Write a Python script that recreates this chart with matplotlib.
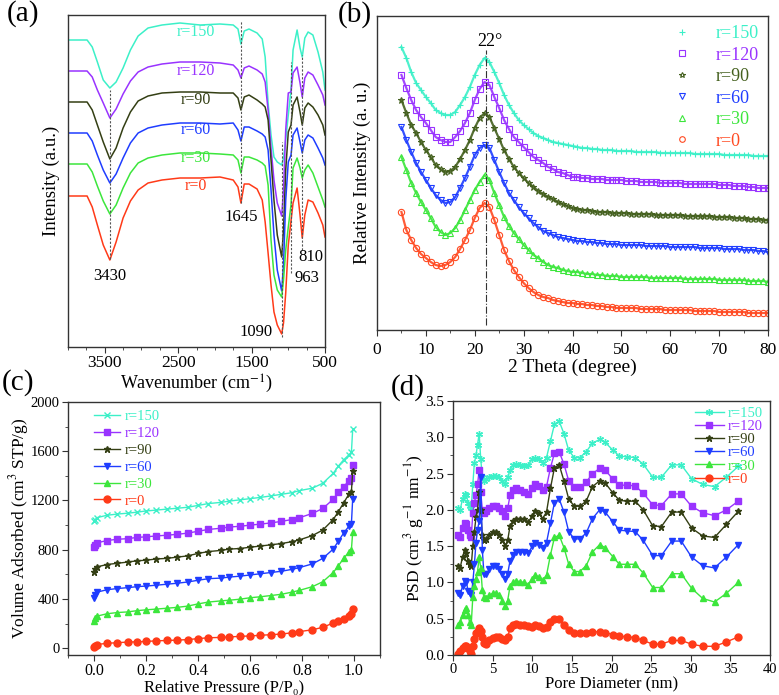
import matplotlib
matplotlib.use("Agg")
import matplotlib.pyplot as plt
from matplotlib.ticker import MultipleLocator

plt.rcParams['font.family'] = ['Liberation Serif', 'DejaVu Serif']
plt.rcParams['mathtext.fontset'] = 'stix'

labels = ["r=150", "r=120", "r=90", "r=60", "r=30", "r=0"]
colors = ["#3CF0C8", "#9933FF", "#343F14", "#1F3DFF", "#3CE63C", "#FF3A18"]
colors_b = ["#3CF0C8", "#9933FF", "#44601E", "#1F3DFF", "#3CE63C", "#FF4A22"]

# ---- (a) FTIR ----
wavenumber = [4000, 3740, 3670, 3600, 3520, 3430, 3345, 3250, 3150, 3045,
              2910, 2720, 2475, 2200, 1930, 1750, 1685, 1645, 1600, 1535,
              1425, 1355, 1315, 1275, 1235, 1195, 1150, 1090, 1065, 1035,
              1000, 963, 935, 880, 840, 810, 775, 730, 665, 595, 530, 500]
ftir_150 = [307, 307, 300, 285, 267, 259, 265, 279, 297, 311, 319, 322, 324, 322, 323, 322, 318, 303, 316, 318, 314,
            308, 290, 244, 212, 190, 185, 182, 189, 207, 232, 257, 297, 317, 299, 290, 309, 315, 312, 295, 275, 257]
ftir_120 = [276, 276, 270, 257, 244, 229, 238, 253, 266, 275, 280, 283, 285, 285, 284, 282, 277, 269, 279, 281, 277,
            273, 265, 237, 199, 167, 144, 131, 157, 217, 254, 255, 274, 280, 264, 250, 269, 275, 272, 262, 252, 242]
ftir_90 = [245, 245, 237, 222, 205, 188, 199, 219, 235, 246, 251, 254, 255, 255, 254, 254, 249, 237, 250, 252, 247,
           243, 240, 227, 187, 147, 112, 90, 117, 177, 215, 222, 242, 250, 235, 222, 239, 244, 240, 232, 222, 212]
ftir_60 = [214, 214, 206, 192, 177, 164, 173, 189, 204, 214, 219, 222, 224, 224, 223, 224, 217, 206, 220, 220, 216,
           213, 210, 197, 157, 112, 77, 56, 82, 147, 185, 192, 212, 219, 205, 194, 207, 212, 209, 199, 189, 182]
ftir_30 = [183, 183, 175, 161, 146, 133, 142, 159, 174, 184, 189, 192, 194, 194, 193, 192, 187, 174, 190, 190, 187,
           184, 181, 162, 107, 72, 57, 50, 67, 97, 120, 142, 179, 189, 179, 169, 177, 182, 174, 160, 147, 140]
ftir_0 = [151, 151, 140, 122, 102, 87, 105, 129, 146, 157, 164, 167, 169, 169, 170, 167, 160, 144, 163, 163, 158,
          147, 125, 94, 62, 35, 22, 13, 24, 54, 102, 126, 144, 159, 132, 109, 132, 147, 145, 134, 122, 110]
ftir = [ftir_150, ftir_120, ftir_90, ftir_60, ftir_30, ftir_0]
peak_pos = [3430, 1645, 1090, 963, 810]

# ---- (b) XRD ----
theta = list(range(5, 81))
xrd_150 = [283, 272, 258, 247, 240, 233, 227, 220, 217, 215,
           215, 218, 225, 233, 243, 255, 265, 272, 268, 258,
           247, 235, 225, 217, 210, 205, 201, 197, 194, 192,
           190, 188, 187, 186, 185, 184, 183, 182, 182, 181,
           181, 180, 180, 180, 179, 179, 179, 179, 178, 178,
           178, 178, 178, 177, 177, 177, 177, 177, 177, 177,
           176, 176, 176, 176, 176, 176, 175, 175, 175, 175,
           175, 175, 174, 174, 174, 174]
xrd_120 = [255, 242, 230, 220, 213, 207, 200, 193, 190, 188,
           188, 193, 199, 207, 217, 230, 241, 248, 245, 233,
           222, 210, 201, 193, 188, 183, 178, 173, 170, 167,
           163, 161, 158, 157, 155, 153, 153, 152, 152, 151,
           151, 151, 150, 150, 150, 150, 149, 149, 149, 148,
           148, 148, 148, 147, 147, 147, 147, 147, 146, 146,
           146, 146, 146, 146, 146, 145, 145, 145, 144, 144,
           144, 143, 143, 142, 142, 142]
xrd_90 = [230, 217, 205, 197, 188, 180, 173, 165, 161, 158,
          159, 163, 171, 180, 190, 202, 212, 217, 213, 202,
          191, 180, 171, 163, 157, 152, 147, 143, 139, 136,
          133, 131, 128, 126, 124, 122, 121, 120, 120, 119,
          118, 118, 118, 117, 117, 117, 117, 116, 116, 116,
          116, 116, 115, 115, 115, 115, 115, 115, 114, 114,
          114, 114, 114, 114, 113, 113, 113, 113, 112, 112,
          112, 111, 111, 111, 110, 110]
xrd_60 = [203, 190, 178, 167, 158, 150, 142, 135, 130, 127,
          128, 133, 142, 152, 163, 175, 182, 185, 182, 170,
          158, 147, 137, 130, 123, 117, 112, 107, 103, 99,
          97, 95, 93, 92, 91, 90, 89, 89, 88, 88,
          87, 87, 86, 86, 86, 85, 85, 85, 85, 85,
          84, 84, 84, 84, 84, 83, 83, 83, 83, 83,
          83, 82, 82, 82, 82, 82, 81, 81, 81, 81,
          80, 80, 80, 79, 79, 78]
xrd_30 = [173, 160, 147, 137, 128, 120, 112, 103, 98, 95,
          97, 102, 110, 120, 130, 140, 148, 155, 150, 137,
          125, 113, 104, 97, 91, 85, 80, 75, 72, 68,
          65, 63, 62, 60, 59, 58, 58, 57, 56, 56,
          55, 55, 54, 54, 54, 53, 53, 53, 53, 53,
          53, 52, 52, 52, 52, 52, 52, 52, 51, 51,
          51, 51, 51, 51, 51, 50, 50, 50, 50, 50,
          50, 49, 49, 49, 49, 48]
xrd_0 = [118, 100, 90, 82, 76, 72, 68, 65, 64, 65,
         68, 73, 81, 90, 100, 112, 122, 127, 123, 110,
         95, 80, 69, 60, 53, 47, 42, 38, 35, 33,
         32, 30, 29, 28, 27, 27, 26, 26, 25, 25,
         24, 24, 23, 23, 22, 22, 22, 22, 22, 21,
         21, 21, 21, 21, 20, 20, 20, 20, 20, 20,
         19, 19, 19, 19, 19, 18, 18, 18, 18, 18,
         18, 17, 17, 17, 17, 17]
xrd = [xrd_150, xrd_120, xrd_90, xrd_60, xrd_30, xrd_0]

# ---- (c) N2 isotherms ----
rel_p = [0.001, 0.005, 0.01, 0.05, 0.09, 0.13, 0.165, 0.2, 0.24, 0.28, 0.32, 0.36, 0.40, 0.44, 0.49, 0.52,
         0.56, 0.60, 0.64, 0.68, 0.72, 0.76, 0.79, 0.84, 0.88, 0.92, 0.94, 0.96, 0.98, 0.99, 0.995]
ads_150 = [1030, 1045, 1060, 1080, 1090, 1097, 1105, 1115, 1122, 1130, 1137, 1145, 1160, 1175, 1185, 1195,
           1205, 1215, 1225, 1237, 1250, 1263, 1280, 1300, 1340, 1420, 1480, 1530, 1570, 1590, 1780]
ads_120 = [820, 840, 855, 875, 885, 890, 900, 905, 912, 918, 925, 935, 950, 965, 975, 985,
           990, 1000, 1008, 1018, 1030, 1045, 1060, 1095, 1135, 1210, 1270, 1310, 1360, 1380, 1490]
ads_90 = [620, 645, 660, 680, 690, 700, 710, 715, 725, 730, 740, 750, 770, 785, 795, 805,
          810, 820, 830, 840, 850, 865, 880, 915, 960, 1045, 1110, 1180, 1250, 1270, 1440]
ads_60 = [410, 435, 455, 475, 485, 492, 500, 505, 512, 520, 528, 538, 552, 565, 570, 578,
          585, 595, 605, 615, 625, 640, 655, 685, 730, 805, 870, 935, 990, 1010, 1215]
ads_30 = [220, 245, 260, 280, 290, 295, 305, 312, 318, 325, 332, 342, 360, 375, 385, 390,
          398, 410, 418, 428, 438, 455, 470, 500, 540, 615, 670, 730, 780, 800, 945]
ads_0 = [10, 22, 30, 40, 45, 50, 52, 55, 60, 63, 66, 70, 78, 85, 88, 92,
         96, 100, 105, 110, 115, 125, 135, 150, 170, 205, 220, 240, 265, 280, 320]
ads = [ads_150, ads_120, ads_90, ads_60, ads_30, ads_0]

# ---- (d) PSD ----
pore_d = [0.6, 0.9, 1.2, 1.5, 1.7, 1.9, 2.1, 2.3, 2.5, 2.7, 2.9, 3.1, 3.3, 3.5, 3.7, 3.9, 4.2, 4.6, 5.0, 5.4,
          5.8, 6.2, 6.6, 6.9, 7.2, 7.6, 8.0, 8.5, 9.0, 9.5, 10.0, 10.3, 10.8, 11.3, 11.8, 12.3, 12.8, 13.4, 14.0, 14.6,
          15.3, 16.0, 16.8, 17.6, 18.5, 19.2, 20.2, 21.0, 22.0, 23.0, 24.0, 25.2, 26.3, 27.6, 28.8, 30.1, 31.5, 33.0, 34.5, 36.0]
psd_150 = [2.02, 2.00, 2.15, 2.22, 2.20, 2.10, 2.05, 2.02, 2.35, 2.65, 2.75, 2.90, 3.05, 2.70, 2.45, 2.40, 2.42, 2.45, 2.47, 2.47,
           2.45, 2.40, 2.35, 2.45, 2.55, 2.62, 2.63, 2.62, 2.60, 2.62, 2.70, 2.72, 2.70, 2.65, 2.72, 2.95, 3.18, 3.22, 3.05, 2.82,
           2.72, 2.72, 2.80, 2.92, 2.97, 2.93, 2.82, 2.74, 2.73, 2.72, 2.63, 2.45, 2.45, 2.62, 2.62, 2.43, 2.35, 2.32, 2.45, 2.60]
psd_120 = [1.65, 1.62, 1.75, 1.82, 1.80, 1.72, 1.65, 1.62, 1.95, 2.10, 2.20, 2.35, 2.55, 2.25, 2.00, 1.95, 1.98, 2.03, 2.05, 2.05,
           2.02, 1.98, 1.92, 2.02, 2.20, 2.28, 2.30, 2.28, 2.25, 2.22, 2.30, 2.35, 2.33, 2.27, 2.32, 2.58, 2.78, 2.80, 2.63, 2.40,
           2.32, 2.31, 2.38, 2.50, 2.57, 2.55, 2.42, 2.34, 2.34, 2.33, 2.23, 2.07, 2.06, 2.22, 2.22, 2.05, 1.96, 1.92, 2.00, 2.12]
psd_90 = [1.22, 1.20, 1.35, 1.45, 1.40, 1.30, 1.25, 1.22, 1.50, 1.70, 1.90, 2.00, 2.25, 2.00, 1.65, 1.58, 1.60, 1.65, 1.70, 1.70,
          1.65, 1.58, 1.50, 1.58, 1.78, 1.85, 1.87, 1.87, 1.87, 1.83, 1.92, 1.98, 1.95, 1.88, 1.97, 2.30, 2.58, 2.62, 2.40, 2.15,
          2.05, 2.05, 2.12, 2.32, 2.40, 2.37, 2.23, 2.13, 2.12, 2.12, 2.00, 1.78, 1.77, 1.97, 1.97, 1.75, 1.64, 1.62, 1.80, 1.98]
psd_60 = [0.85, 0.82, 0.95, 1.02, 1.00, 0.88, 0.85, 0.82, 1.00, 1.25, 1.55, 1.72, 1.85, 2.45, 1.45, 1.12, 1.12, 1.18, 1.22, 1.22,
          1.18, 1.12, 1.05, 1.12, 1.30, 1.38, 1.42, 1.42, 1.42, 1.40, 1.50, 1.55, 1.52, 1.47, 1.55, 1.82, 2.10, 2.15, 1.97, 1.70,
          1.60, 1.60, 1.68, 1.88, 2.00, 1.97, 1.83, 1.72, 1.71, 1.70, 1.58, 1.37, 1.37, 1.57, 1.57, 1.35, 1.23, 1.20, 1.35, 1.52]
psd_30 = [0.42, 0.45, 0.55, 0.62, 0.65, 0.55, 0.45, 0.42, 0.80, 0.95, 1.05, 1.15, 1.35, 1.20, 0.90, 0.80, 0.78, 0.82, 0.85, 0.86,
          0.83, 0.75, 0.68, 0.75, 0.95, 1.00, 1.02, 1.01, 1.00, 0.97, 1.05, 1.10, 1.08, 1.03, 1.10, 1.38, 1.62, 1.65, 1.48, 1.25,
          1.15, 1.15, 1.23, 1.42, 1.52, 1.48, 1.35, 1.25, 1.25, 1.25, 1.13, 0.93, 0.93, 1.12, 1.12, 0.92, 0.78, 0.73, 0.85, 1.00]
psd_0 = [0.02, 0.05, 0.10, 0.12, 0.13, 0.10, 0.05, 0.02, 0.12, 0.22, 0.30, 0.33, 0.37, 0.33, 0.25, 0.17, 0.15, 0.20, 0.23, 0.25,
         0.25, 0.22, 0.20, 0.25, 0.37, 0.42, 0.43, 0.42, 0.42, 0.40, 0.38, 0.41, 0.40, 0.37, 0.38, 0.45, 0.50, 0.50, 0.42, 0.35,
         0.30, 0.30, 0.31, 0.32, 0.32, 0.31, 0.28, 0.26, 0.25, 0.24, 0.20, 0.15, 0.15, 0.20, 0.20, 0.15, 0.12, 0.12, 0.18, 0.25]
psd = [psd_150, psd_120, psd_90, psd_60, psd_30, psd_0]

W, H = 779, 695
fig = plt.figure(figsize=(W / 100, H / 100), dpi=100)


def box(l, t, r, b):
    return [l / W, 1 - b / H, (r - l) / W, (b - t) / H]


def style(ax):
    for s in ax.spines.values():
        s.set_color("#333333")
        s.set_linewidth(1.0)
    ax.tick_params(which="both", direction="out", color="#333333")
    ax.tick_params(which="major", length=4)
    ax.tick_params(which="minor", length=2)


# (a)
ax = fig.add_axes(box(68, 15, 325, 347))
style(ax)
for vals, c in zip(ftir, colors):
    ax.plot(wavenumber, vals, color=c, lw=1.1)
ax.set_xlim(4000, 500)
ax.set_ylim(0, 332)
ax.set_yticks([])
ax.xaxis.set_minor_locator(MultipleLocator(250))
ax.set_xticks([3500, 2500, 1500, 500])
ax.tick_params(axis="x", labelsize=12.5, pad=2)
ax.set_xlabel("Wavenumber (cm$^{-1}$)", fontsize=13, labelpad=1)
ax.set_ylabel("Intensity (a.u.)", fontsize=13.5, labelpad=6)
lines_a = {3430: (90, 259), 1645: (21, 203), 1090: (142, 337), 963: (62, 273), 810: (55, 250)}
for p in peak_pos:
    top, bot = lines_a[p]
    ax.plot([p, p], [347 - bot, 347 - top], color="#555555", lw=0.8, ls=(0, (2, 1.5)))
ax.text(3430, 71, "3430", ha="center", va="center", fontsize=12)
ax.text(1645, 130, "1645", ha="center", va="center", fontsize=12)
ax.text(1445, 15, "1090", ha="center", va="center", fontsize=12)
ax.text(750, 69, "963", ha="center", va="center", fontsize=12)
ax.text(690, 90, "810", ha="center", va="center", fontsize=12)
lab_y = [315, 276, 247, 217, 189, 161]
for lab, c, y in zip(labels, colors, lab_y):
    ax.text(2255, y, lab, color=c, ha="center", va="center", fontsize=11.5)
fig.text(23 / W, 1 - 14 / H, "(a)", fontsize=21, ha="center", va="center")

# (b)
ax = fig.add_axes(box(377, 16, 768, 330))
style(ax)
markers_b = ["+", "s", "*", "v", "^", "o"]
for vals, c, m, lab in zip(xrd, colors_b, markers_b, labels):
    ax.plot(theta, vals, color=c, lw=1.6, alpha=0.9)
    ax.plot(theta, vals, ls="none", marker=m, ms=4.5, mfc="none", mec=c, mew=0.8, label=lab)
ax.set_xlim(0, 80)
ax.set_ylim(0, 314)
ax.set_yticks([])
ax.xaxis.set_major_locator(MultipleLocator(10))
ax.xaxis.set_minor_locator(MultipleLocator(5))
ax.tick_params(axis="x", labelsize=12.5, pad=5)
ax.set_xlabel("2 Theta (degree)", fontsize=14, labelpad=0)
ax.set_ylabel("Relative Intensity (a. u.)", fontsize=13.5, labelpad=4)
ax.plot([22.3, 22.3], [5, 280], color="#333333", lw=0.8, ls="-.")
ax.text(23.0, 288, "22°", ha="center", va="center", fontsize=13)
leg = ax.legend(loc="upper right", frameon=False, fontsize=13, handletextpad=1.4,
                labelspacing=0.25, borderaxespad=0.1, markerscale=0.9, handlelength=1.0)
for t, c in zip(leg.get_texts(), colors_b):
    t.set_color(c)
fig.text(355 / W, 1 - 15 / H, "(b)", fontsize=21, ha="center", va="center")

# (c)
ax = fig.add_axes(box(68, 402, 380, 655))
style(ax)
markers_c = ["x", "s", "*", "v", "^", "o"]
for vals, c, m, lab in zip(ads, colors, markers_c, labels):
    ax.plot(rel_p, vals, color=c, lw=1.0, marker=m, ms=5, mew=1.0, label=lab)
ax.set_xlim(-0.1, 1.1)
ax.set_ylim(-55, 2000)
ax.xaxis.set_minor_locator(MultipleLocator(0.1))
ax.yaxis.set_major_locator(MultipleLocator(400))
ax.yaxis.set_minor_locator(MultipleLocator(200))
ax.set_xticks([0.0, 0.2, 0.4, 0.6, 0.8, 1.0])
ax.tick_params(axis="x", labelsize=11.5, pad=2)
ax.tick_params(axis="y", labelsize=10.5, pad=2)
ax.set_xlabel("Relative Pressure (P/P\u2080)", fontsize=12, labelpad=0)
ax.set_ylabel("Volume Adsorbed (cm$^3$ STP/g)", fontsize=12.5, labelpad=0)
leg = ax.legend(loc="upper left", bbox_to_anchor=(0.04, 1.02), frameon=False, fontsize=10.5,
                handlelength=1.8, handletextpad=0.3, labelspacing=0.25)
for t, c in zip(leg.get_texts(), colors):
    t.set_color(c)
fig.text(18 / W, 1 - 383 / H, "(c)", fontsize=21, ha="center", va="center")

# (d)
ax = fig.add_axes(box(453, 401, 770, 655))
style(ax)
markers_d = [(6, 2, 0), "s", "*", "v", "^", "o"]
for vals, c, m, lab in zip(psd, colors, markers_d, labels):
    ax.plot(pore_d, vals, color=c, lw=1.0, marker=m, ms=5, mew=1.0, label=lab)
ax.set_xlim(0, 40)
ax.set_ylim(0, 3.5)
ax.xaxis.set_major_locator(MultipleLocator(5))
ax.yaxis.set_major_locator(MultipleLocator(0.5))
ax.yaxis.set_minor_locator(MultipleLocator(0.25))
ax.yaxis.set_major_formatter(plt.FormatStrFormatter("%.1f"))
ax.tick_params(axis="x", labelsize=10.5, pad=2)
ax.tick_params(axis="y", labelsize=11, pad=2)
ax.set_xlabel("Pore Diameter (nm)", fontsize=12, labelpad=0)
ax.set_ylabel("PSD (cm$^3$ g$^{-1}$ nm$^{-1}$)", fontsize=12.5, labelpad=0)
leg = ax.legend(loc="upper right", bbox_to_anchor=(1.02, 1.03), frameon=False, fontsize=10.5,
                handlelength=2.0, handletextpad=0.3, labelspacing=0.0)
for t, c in zip(leg.get_texts(), colors):
    t.set_color(c)
fig.text(408 / W, 1 - 388 / H, "(d)", fontsize=21, ha="center", va="center")

fig.savefig("out.png", dpi=100)
